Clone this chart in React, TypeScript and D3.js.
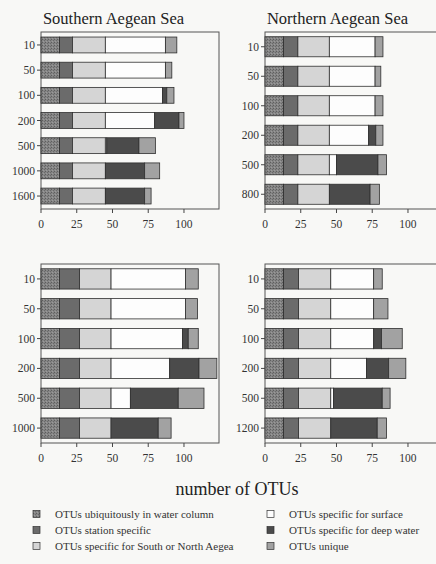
import React from 'react';
import * as d3 from 'd3';

// category keys, in stacking order
const keys = ['ubiquitous', 'station', 'region', 'surface', 'deep', 'unique'];

const legendLabels = [
  'OTUs ubiquitously in water column',
  'OTUs station specific',
  'OTUs specific for South or North Aegean Sea',
  'OTUs specific for surface',
  'OTUs specific for deep water',
  'OTUs unique',
];

const colors = {
  ubiquitous: 'url(#speckle)',
  station: '#6b6b6b',
  region: '#d5d5d5',
  surface: '#fdfdfd',
  deep: '#4b4b4b',
  unique: '#a2a2a2',
};

const xTicks = [0, 25, 50, 75, 100];

// Southern Aegean Sea, top
const depthsA = ['10', '50', '100', '200', '500', '1000', '1600'];
const ubiquitousA = [13, 13, 13, 13, 13, 13, 13];
const stationA = [9, 9, 9, 9, 9, 9, 9];
const regionA = [23, 23, 23, 23, 23, 23, 23];
const surfaceA = [42, 42, 40, 34.5, 1, 0, 0];
const deepA = [0, 0, 3, 17, 22.5, 27.5, 27.5];
const uniqueA = [8, 4.5, 5, 3.5, 11.5, 10.5, 4.5];

// Northern Aegean Sea, top
const depthsB = ['10', '50', '100', '200', '500', '800'];
const ubiquitousB = [13, 13, 13, 13, 13, 13];
const stationB = [10, 10, 10, 10, 10, 10];
const regionB = [22, 22, 22, 22, 22, 22];
const surfaceB = [32, 32, 32, 27.5, 5, 0];
const deepB = [0, 0, 0, 5, 29, 28.5];
const uniqueB = [5.5, 4, 5.5, 5, 6, 6.5];

// Southern Aegean Sea, bottom
const depthsC = ['10', '50', '100', '200', '500', '1000'];
const ubiquitousC = [13, 13, 13, 13, 13, 13];
const stationC = [14, 14, 14, 14, 14, 14];
const regionC = [22, 22, 22, 22, 22, 22];
const surfaceC = [52, 52, 50, 41, 13.5, 0];
const deepC = [0, 0, 4, 20.5, 33.5, 33];
const uniqueC = [9, 8.5, 7, 12.5, 18, 9];

// Northern Aegean Sea, bottom
const depthsD = ['10', '50', '100', '200', '500', '1200'];
const ubiquitousD = [13, 13, 13, 13, 13, 13];
const stationD = [10.5, 10.5, 10.5, 10.5, 10.5, 10.5];
const regionD = [22.5, 22.5, 22.5, 22.5, 22.5, 22.5];
const surfaceD = [30, 30, 30, 25, 2, 0];
const deepD = [0, 0, 5.5, 15.5, 34, 32.5];
const uniqueD = [6, 10, 14.5, 12, 5.5, 6.5];

const makeRows = (depths, series) =>
  depths.map((depth, i) => {
    const row = { depth };
    keys.forEach((k, j) => { row[k] = series[j][i]; });
    return row;
  });

const panels = [
  { title: 'Southern Aegean Sea', left: 41, top: 32, bottom: 209, depths: depthsA,
    rows: makeRows(depthsA, [ubiquitousA, stationA, regionA, surfaceA, deepA, uniqueA]) },
  { title: 'Northern Aegean Sea', left: 265, top: 32, bottom: 209, depths: depthsB,
    rows: makeRows(depthsB, [ubiquitousB, stationB, regionB, surfaceB, deepB, uniqueB]) },
  { title: '', left: 41, top: 264, bottom: 443, depths: depthsC,
    rows: makeRows(depthsC, [ubiquitousC, stationC, regionC, surfaceC, deepC, uniqueC]) },
  { title: '', left: 265, top: 264, bottom: 443, depths: depthsD,
    rows: makeRows(depthsD, [ubiquitousD, stationD, regionD, surfaceD, deepD, uniqueD]) },
];

const panelWidth = 178;
const font = "'Liberation Serif', 'Times New Roman', 'DejaVu Serif', serif";

const Panel = ({ panel }) => {
  const x = d3.scaleLinear().domain([0, 124.5]).range([panel.left, panel.left + panelWidth]);
  const y = d3.scaleBand()
    .domain(panel.depths)
    .range([panel.top, panel.bottom])
    .paddingInner(panel.depths.length > 6 ? 0.37 : 0.32)
    .paddingOuter(panel.depths.length > 6 ? 0.2 : 0.16);
  const stacked = d3.stack().keys(keys)(panel.rows);

  return (
    <g>
      {panel.title && (
        <text x={x(50) + 1} y={24} textAnchor="middle" fontSize={16.5} fill="#222" fontFamily={font}>
          {panel.title}
        </text>
      )}
      <rect x={panel.left} y={panel.top} width={panelWidth} height={panel.bottom - panel.top}
        fill="none" stroke="#555" strokeWidth={1} />
      {stacked.map(layer => (
        <g key={layer.key}>
          {layer.map((d, i) => (d[1] - d[0] > 0 ? (
            <rect key={i}
              x={x(d[0])} y={y(d.data.depth)}
              width={x(d[1]) - x(d[0])} height={y.bandwidth()}
              fill={colors[layer.key]} stroke="#2e2e2e" strokeWidth={0.8} />
          ) : null))}
        </g>
      ))}
      {/* x axis */}
      {xTicks.map(t => (
        <g key={t}>
          <line x1={x(t)} x2={x(t)} y1={panel.bottom} y2={panel.bottom + 4} stroke="#444" />
          <text x={x(t)} y={panel.bottom + 19} textAnchor="middle" fontSize={11.5} fill="#333"
            fontFamily={font}>{t}</text>
        </g>
      ))}
      {/* y axis */}
      {panel.depths.map(dp => (
        <g key={dp}>
          <line x1={panel.left - 4} x2={panel.left} y1={y(dp) + y.bandwidth() / 2}
            y2={y(dp) + y.bandwidth() / 2} stroke="#444" />
          <text x={panel.left - 6} y={y(dp) + y.bandwidth() / 2 + 4} textAnchor="end"
            fontSize={11.5} fill="#333" fontFamily={font}>{dp}</text>
        </g>
      ))}
    </g>
  );
};

const legendPos = [
  { x: 33, y: 514 }, { x: 33, y: 530 }, { x: 33, y: 546 },
  { x: 267, y: 514 }, { x: 267, y: 530 }, { x: 267, y: 546 },
];

export default function App() {
  return (
    <svg width={436} height={564} style={{ position: 'absolute', left: 0, top: 0 }}>
      <defs>
        <pattern id="speckle" width={3} height={3} patternUnits="userSpaceOnUse">
          <rect width={3} height={3} fill="#858585" />
          <rect x={0} y={0} width={1} height={1} fill="#5e5e5e" />
          <rect x={2} y={1} width={1} height={1} fill="#6a6a6a" />
          <rect x={1} y={2} width={1} height={1} fill="#9a9a9a" />
        </pattern>
        <clipPath id="legclip">
          <rect x={0} y={0} width={234} height={564} />
        </clipPath>
      </defs>
      <rect width={436} height={564} fill="#f8f8f6" />
      {panels.map((p, i) => <Panel key={i} panel={p} />)}
      <text x={237} y={495} textAnchor="middle" fontSize={18} fill="#222" fontFamily={font}>
        number of OTUs
      </text>
      {keys.map((k, i) => (
        <g key={k} clipPath={i === 2 ? 'url(#legclip)' : undefined}>
          <rect x={legendPos[i].x} y={legendPos[i].y - 3.5} width={7} height={7}
            fill={colors[k]} stroke="#333" strokeWidth={0.7} />
          <text x={legendPos[i].x + 22} y={legendPos[i].y + 3.5} fontSize={11} fill="#333"
            fontFamily={font}>
            {legendLabels[i]}
          </text>
        </g>
      ))}
    </svg>
  );
}
